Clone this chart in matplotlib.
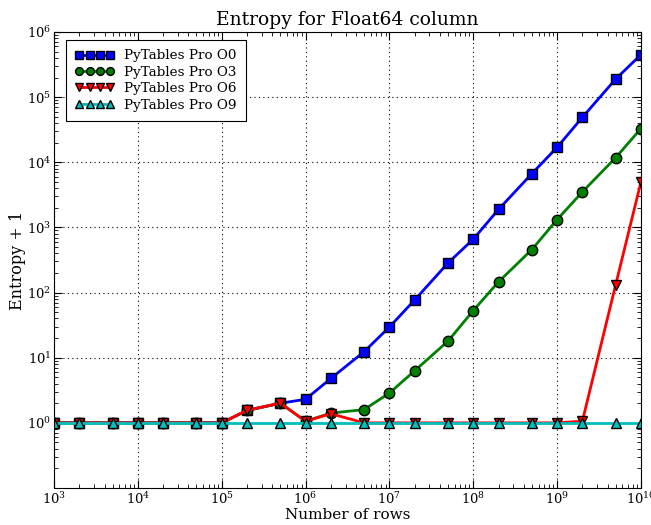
import numpy as np
import matplotlib
matplotlib.use("Agg")
import matplotlib.pyplot as plt

plt.rcParams['font.family'] = ['DejaVu Serif']
plt.rcParams['mathtext.fontset'] = 'dejavuserif'
plt.rcParams['xtick.direction'] = 'in'
plt.rcParams['ytick.direction'] = 'in'
plt.rcParams['xtick.top'] = True
plt.rcParams['ytick.right'] = True

# number of rows
nrows = [1e3, 2e3, 5e3, 1e4, 2e4, 5e4, 1e5, 2e5, 5e5, 1e6, 2e6, 5e6,
         1e7, 2e7, 5e7, 1e8, 2e8, 5e8, 1e9, 2e9, 5e9, 1e10]

# entropy + 1 per optimization level
o0 = [1, 1, 1, 1, 1, 1, 1, 1.55, 2.0, 2.3, 4.8, 12.4,
      29.6, 77, 285, 660, 1890, 6700, 17000, 49000, 190000, 450000]
o3 = [1, 1, 1, 1, 1, 1, 1, 1.55, 2.0, 1.06, 1.41, 1.6,
      2.87, 6.3, 18, 53, 146, 458, 1320, 3510, 11800, 33000]
o6 = [1, 1, 1, 1, 1, 1, 1, 1.56, 2.01, 1.06, 1.38, 1.0,
      1.0, 1.0, 1.0, 1.0, 1.0, 1.0, 1.0, 1.06, 133, 5000]
o9 = [1] * 22

fig = plt.figure(figsize=(6.51, 5.25), dpi=100)
ax = fig.add_axes([0.083, 0.0705, 0.9016, 0.8685])

ax.plot(nrows, o0, '-s', color='b', lw=2, ms=7.5, mec='k', label='PyTables Pro O0')
ax.plot(nrows, o3, '-o', color='g', lw=2, ms=7.5, mec='k', label='PyTables Pro O3')
ax.plot(nrows, o6, '-v', color='r', lw=2, ms=7.5, mec='k', label='PyTables Pro O6')
ax.plot(nrows, o9, '-^', color='c', lw=2, ms=7.5, mec='k', label='PyTables Pro O9')

ax.set_xscale('log')
ax.set_yscale('log')
ax.set_xlim(1e3, 1e10)
ax.set_ylim(0.1, 1e6)
ax.set_yticks([1, 10, 100, 1e3, 1e4, 1e5, 1e6])
ax.grid(True, which='major', color='k', linestyle=(0, (1, 3)), linewidth=0.8)
ax.tick_params(which='major', length=6, pad=2, labelsize=9.5)
ax.tick_params(which='minor', length=3)

ax.set_title('Entropy for Float64 column', fontsize=13.5, pad=5)
ax.set_xlabel('Number of rows', fontsize=11)
ax.set_ylabel('Entropy + 1', fontsize=11.5)
ax.xaxis.set_label_coords(0.5, -0.044)
ax.yaxis.set_label_coords(-0.047, 0.5)

leg = ax.legend(loc='upper left', bbox_to_anchor=(0.0204, 0.9825), borderaxespad=0,
                numpoints=4, handlelength=2.9, handletextpad=0.7, fontsize=9.7,
                fancybox=False, framealpha=1, edgecolor='k', borderpad=0.7,
                labelspacing=0.25, markerscale=0.75)
leg.get_frame().set_linewidth(0.8)

fig.savefig('out.png', dpi=100)
